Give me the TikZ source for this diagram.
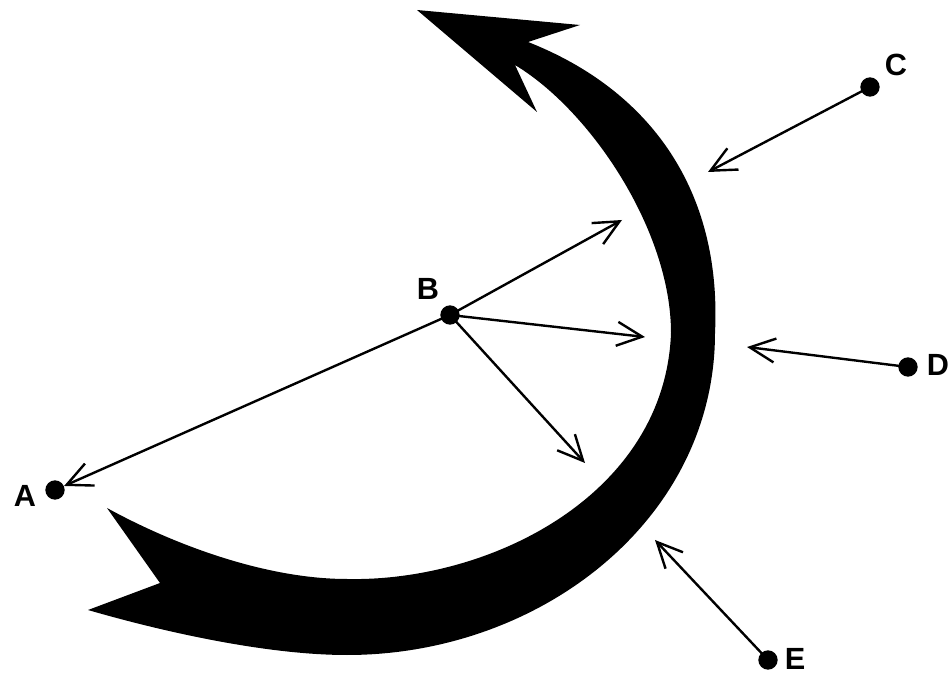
\documentclass[tikz,border=0pt]{standalone}
\usepackage{fontspec}
\setmainfont{Liberation Sans}
\usetikzlibrary{arrows.meta}
\begin{document}
\begin{tikzpicture}[x=0.75pt,y=-0.75pt,
  dot/.style={circle,fill=black,inner sep=0pt,minimum size=14.5pt},
  lbl/.style={font=\fontsize{23}{26}\selectfont\bfseries,inner sep=0pt},
  arr/.style={line width=1.8pt,-{Straight Barb[length=19pt,width=18pt,line width=1.8pt]}}]
\useasboundingbox (0,0) rectangle (951,677);
% big curved arrow
\fill[black] (88,610) -- (160,583) -- (107,508)
  .. controls (180,548) and (270,579) .. (347,579)
  .. controls (490,582) and (665,495) .. (671,333)
  .. controls (671,230) and (590,110) .. (515,65)
  -- (537,112) -- (417,10) -- (580,25) -- (528,42)
  .. controls (650,90) and (722,190) .. (715,333)
  .. controls (715,520) and (540,655) .. (347,655)
  .. controls (260,655) and (150,628) .. (88,610)
  -- cycle;
% points
\node[dot] (A) at (55,490) {};
\node[dot] (B) at (450,315) {};
\node[dot] (C) at (870,87) {};
\node[dot] (D) at (908,367) {};
\node[dot] (E) at (768,660) {};
\node[lbl] (lA) at (25,496) {A};
\node[lbl] (lB) at (428,289) {B};
\node[lbl] (lC) at (896,65) {C};
\node[lbl] (lD) at (938,365) {D};
\node[lbl] (lE) at (795,659) {E};
% free ends
\coordinate (b1) at (622,220);
\coordinate (b2) at (645,337);
\coordinate (b3) at (585,463);
\coordinate (c1) at (708,172);
\coordinate (d1) at (747,347);
\coordinate (e1) at (655,540);
% connectors
\draw[arr] (B.center) -- (A);
\draw[arr] (B.center) -- (b1);
\draw[arr] (B.center) -- (b2);
\draw[arr] (B.center) -- (b3);
\draw[arr] (C.center) -- (c1);
\draw[arr] (D.center) -- (d1);
\draw[arr] (E.center) -- (e1);
\end{tikzpicture}
\end{document}
